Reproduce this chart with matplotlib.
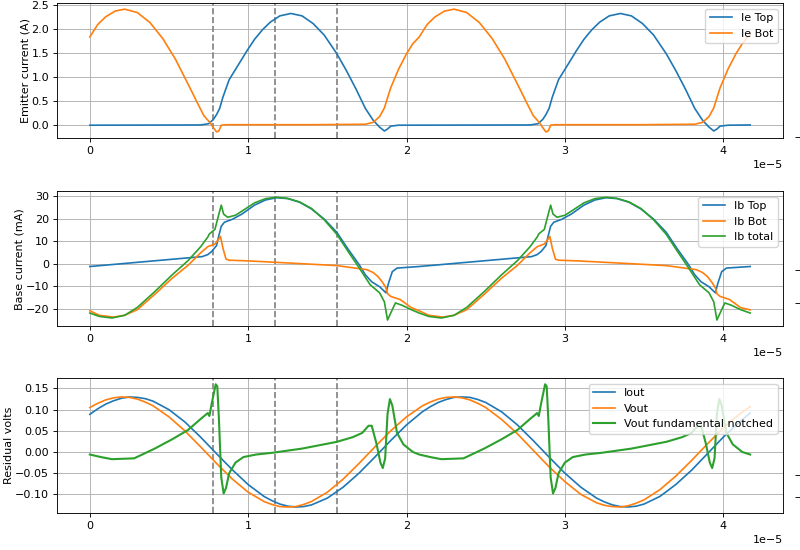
import matplotlib
matplotlib.use('Agg')
import matplotlib.pyplot as plt
from matplotlib.ticker import MultipleLocator
import numpy as np

# reference looks like a default figure scaled down by ~0.8
plt.rcParams.update({
    'font.size': 8,
    'lines.linewidth': 1.2,
    'axes.linewidth': 0.64,
    'axes.labelpad': 0.5,
    'grid.linewidth': 0.64,
    'xtick.major.size': 2.8,
    'ytick.major.size': 2.8,
    'xtick.major.width': 0.64,
    'ytick.major.width': 0.64,
    'xtick.major.pad': 2.8,
    'ytick.major.pad': 2.8,
    'legend.fontsize': 8,
})

# time is in units of 1e-5 s (the axis shows the 1e-5 offset)
markers = [0.78, 1.17, 1.56]

# --- emitter currents (A) ---
ie_top_t = [0.00, 0.70, 0.75, 0.78, 0.80, 0.82, 0.84, 0.88, 0.94, 0.99, 1.04, 1.09, 1.14, 1.20,
            1.27, 1.34, 1.41, 1.48, 1.56, 1.62, 1.68, 1.74, 1.79, 1.83, 1.86, 1.88, 1.90, 1.95,
            2.78, 2.83, 2.86, 2.88, 2.90, 2.92, 2.96, 3.02, 3.07, 3.12, 3.17, 3.22, 3.28,
            3.35, 3.42, 3.49, 3.56, 3.64, 3.70, 3.76, 3.82, 3.87, 3.91, 3.94, 3.96, 3.98, 4.03, 4.17]
ie_top = [0.00, 0.005, 0.03, 0.12, 0.22, 0.35, 0.58, 0.95, 1.27, 1.54, 1.79, 1.99, 2.15, 2.28,
          2.33, 2.28, 2.12, 1.88, 1.49, 1.14, 0.76, 0.35, 0.10, -0.04, -0.12, -0.08, -0.02, 0.00,
          0.005, 0.03, 0.12, 0.22, 0.35, 0.58, 0.95, 1.27, 1.54, 1.79, 1.99, 2.15, 2.28,
          2.33, 2.28, 2.12, 1.88, 1.49, 1.14, 0.76, 0.35, 0.10, -0.04, -0.12, -0.08, -0.02, 0.00, 0.005]

ie_bot_t = [0.00, 0.05, 0.10, 0.16, 0.22, 0.30, 0.38, 0.46, 0.54, 0.62, 0.68, 0.72, 0.76, 0.78,
            0.80, 0.815, 0.83, 0.86, 1.40, 1.74, 1.79, 1.83, 1.86, 1.90, 1.95, 2.00, 2.04,
            2.08, 2.13, 2.18, 2.24, 2.30, 2.38, 2.46, 2.54, 2.62, 2.70, 2.76, 2.80, 2.84, 2.86,
            2.88, 2.895, 2.91, 2.94, 3.48, 3.82, 3.87, 3.91, 3.94, 3.98, 4.03, 4.08, 4.12, 4.17]
ie_bot = [1.84, 2.10, 2.26, 2.38, 2.42, 2.35, 2.14, 1.81, 1.38, 0.86, 0.46, 0.20, 0.05, -0.05,
          -0.14, -0.12, 0.00, 0.01, 0.01, 0.02, 0.06, 0.18, 0.36, 0.78, 1.17, 1.49, 1.70,
          1.84, 2.10, 2.26, 2.38, 2.42, 2.35, 2.14, 1.81, 1.38, 0.86, 0.46, 0.20, 0.05, -0.05,
          -0.14, -0.12, 0.00, 0.01, 0.01, 0.02, 0.06, 0.18, 0.36, 0.78, 1.17, 1.49, 1.70, 1.90]

# --- base currents (mA) ---
ib_top_t = [0.00, 0.71, 0.745, 0.77, 0.80, 0.815, 0.83, 0.85, 0.90, 0.96, 1.04, 1.11, 1.18, 1.25,
            1.325, 1.40, 1.48, 1.56, 1.63, 1.70, 1.74, 1.78, 1.83, 1.87, 1.885, 1.91, 1.94,
            2.08, 2.79, 2.825, 2.85, 2.88, 2.895, 2.91, 2.93, 2.98, 3.04, 3.12, 3.19, 3.26, 3.33,
            3.405, 3.48, 3.56, 3.64, 3.71, 3.78, 3.82, 3.86, 3.91, 3.95, 3.965, 3.99, 4.02, 4.17]
ib_top = [-1.3, 3.1, 4.0, 5.4, 8.0, 12.5, 16.6, 18.4, 19.7, 22.0, 26.0, 28.3, 29.3, 28.9,
          27.3, 24.3, 19.8, 13.9, 6.5, -0.4, -5.0, -8.1, -10.3, -13.0, -9.0, -3.6, -2.0,
          -1.3, 3.1, 4.0, 5.4, 8.0, 12.5, 16.6, 18.4, 19.7, 22.0, 26.0, 28.3, 29.3, 28.9,
          27.3, 24.3, 19.8, 13.9, 6.5, -0.4, -5.0, -8.1, -10.3, -13.0, -9.0, -3.6, -2.0, -1.3]

ib_bot_t = [0.00, 0.06, 0.15, 0.22, 0.30, 0.41, 0.52, 0.62, 0.70, 0.745, 0.77, 0.79, 0.815, 0.825,
            0.84, 0.86, 0.88, 1.00, 1.325, 1.56, 1.75, 1.79, 1.82, 1.85, 1.87, 1.88, 1.90, 1.96, 2.03,
            2.08, 2.14, 2.23, 2.30, 2.38, 2.49, 2.60, 2.70, 2.78, 2.825, 2.85, 2.87, 2.895, 2.905,
            2.92, 2.94, 2.96, 3.08, 3.405, 3.64, 3.83, 3.87, 3.90, 3.93, 3.95, 3.96, 3.98, 4.04, 4.11, 4.17]
ib_bot = [-21.0, -23.0, -23.8, -23.0, -20.5, -13.7, -6.5, -0.8, 4.8, 7.5, 8.2, 8.7, 11.0, 12.1,
          7.0, 2.0, 1.5, 1.2, 0.0, -0.9, -2.7, -4.0, -5.8, -8.5, -10.8, -13.4, -14.6, -16.0, -19.6,
          -21.0, -23.0, -23.8, -23.0, -20.5, -13.7, -6.5, -0.8, 4.8, 7.5, 8.2, 8.7, 11.0, 12.1,
          7.0, 2.0, 1.5, 1.2, 0.0, -0.9, -2.7, -4.0, -5.8, -8.5, -10.8, -13.4, -14.6, -16.0, -19.6, -20.6]

ib_tot_t = [0.00, 0.06, 0.14, 0.22, 0.30, 0.41, 0.52, 0.62, 0.70, 0.745, 0.755, 0.79, 0.815, 0.83,
            0.845, 0.87, 0.92, 0.96, 1.04, 1.11, 1.18, 1.25, 1.325, 1.40, 1.48, 1.56, 1.63, 1.70,
            1.77, 1.83, 1.86, 1.88, 1.90, 1.93, 1.97, 2.03,
            2.08, 2.14, 2.22, 2.30, 2.38, 2.49, 2.60, 2.70, 2.78, 2.825, 2.835, 2.87, 2.895, 2.91,
            2.925, 2.95, 3.00, 3.04, 3.12, 3.19, 3.26, 3.33, 3.405, 3.48, 3.56, 3.64, 3.71, 3.78,
            3.85, 3.91, 3.94, 3.96, 3.98, 4.01, 4.05, 4.11, 4.17]
ib_tot = [-22.0, -23.5, -24.2, -23.0, -19.5, -12.5, -5.0, 1.3, 7.5, 11.8, 13.2, 15.2, 22.0, 26.0,
          22.0, 20.6, 21.5, 23.3, 27.0, 28.9, 29.5, 29.0, 27.4, 24.5, 19.5, 13.0, 5.5, -1.8,
          -9.4, -13.0, -17.0, -25.1, -22.0, -17.5, -18.5, -20.5,
          -22.0, -23.5, -24.2, -23.0, -19.5, -12.5, -5.0, 1.3, 7.5, 11.8, 13.2, 15.2, 22.0, 26.0,
          22.0, 20.6, 21.5, 23.3, 27.0, 28.9, 29.5, 29.0, 27.4, 24.5, 19.5, 13.0, 5.5, -1.8,
          -9.4, -13.0, -17.0, -25.1, -22.0, -17.5, -18.5, -20.5, -22.0]

# --- residual volts ---
res_t = [0.0, 0.05, 0.1, 0.15, 0.2, 0.25, 0.3, 0.35, 0.4, 0.5, 0.6, 0.7, 0.8, 0.9, 1.0, 1.1,
         1.15, 1.2, 1.25, 1.3, 1.35, 1.4, 1.5, 1.6, 1.7, 1.8, 1.9, 2.0, 2.1, 2.15, 2.2, 2.25, 2.3,
         2.35, 2.4, 2.45, 2.5, 2.6, 2.7, 2.8, 2.9, 3.0, 3.1, 3.2, 3.25, 3.3, 3.35, 3.4, 3.45, 3.5,
         3.6, 3.7, 3.8, 3.9, 4.0, 4.1, 4.17]
iout = [0.089, 0.102, 0.113, 0.121, 0.127, 0.130, 0.129, 0.126, 0.120, 0.100, 0.071, 0.035,
        -0.004, -0.042, -0.077, -0.105, -0.115, -0.123, -0.128, -0.130, -0.129, -0.125, -0.109,
        -0.083, -0.050, -0.012, 0.027, 0.064, 0.095, 0.107, 0.117, 0.124, 0.129, 0.130, 0.129,
        0.124, 0.117, 0.095, 0.064, 0.027, -0.012, -0.050, -0.083, -0.109, -0.118, -0.125,
        -0.129, -0.130, -0.128, -0.123, -0.105, -0.077, -0.043, -0.004, 0.035, 0.070, 0.092]
vout = [0.105, 0.115, 0.123, 0.128, 0.130, 0.129, 0.125, 0.118, 0.109, 0.083, 0.050, 0.012,
        -0.027, -0.064, -0.095, -0.117, -0.124, -0.129, -0.130, -0.129, -0.124, -0.117, -0.095,
        -0.064, -0.027, 0.012, 0.050, 0.083, 0.109, 0.118, 0.125, 0.129, 0.130, 0.128, 0.123,
        0.115, 0.105, 0.077, 0.043, 0.004, -0.035, -0.070, -0.100, -0.120, -0.126, -0.129,
        -0.130, -0.127, -0.121, -0.113, -0.089, -0.057, -0.020, 0.019, 0.057, 0.089, 0.107]

notch_t = [0.00, 0.07, 0.14, 0.28, 0.41, 0.52, 0.62, 0.70, 0.745, 0.755, 0.77, 0.795, 0.805, 0.815,
           0.83, 0.845, 0.86, 0.88, 0.92, 0.97, 1.05, 1.15, 1.34, 1.56, 1.66, 1.72, 1.76, 1.78,
           1.81, 1.835, 1.85, 1.865, 1.88, 1.895, 1.91, 1.94, 1.98, 2.04,
           2.08, 2.15, 2.22, 2.36, 2.49, 2.60, 2.70, 2.78, 2.825, 2.835, 2.85, 2.875, 2.885, 2.895,
           2.91, 2.925, 2.94, 2.96, 3.00, 3.05, 3.13, 3.23, 3.42, 3.64, 3.74, 3.80, 3.84, 3.86,
           3.89, 3.915, 3.93, 3.945, 3.96, 3.975, 3.99, 4.02, 4.06, 4.12, 4.17]
notch = [-0.006, -0.012, -0.017, -0.015, 0.008, 0.030, 0.052, 0.078, 0.092, 0.085, 0.115, 0.160,
         0.155, 0.080, -0.060, -0.098, -0.085, -0.050, -0.025, -0.012, -0.006, -0.002, 0.008, 0.024,
         0.035, 0.045, 0.062, 0.062, 0.020, -0.025, -0.038, -0.015, 0.090, 0.125, 0.110, 0.045,
         0.018, 0.000,
         -0.006, -0.012, -0.017, -0.015, 0.008, 0.030, 0.052, 0.078, 0.092, 0.085, 0.115, 0.160,
         0.155, 0.080, -0.060, -0.098, -0.085, -0.050, -0.025, -0.012, -0.006, -0.002, 0.008, 0.024,
         0.035, 0.045, 0.062, 0.062, 0.020, -0.025, -0.038, -0.015, 0.090, 0.125, 0.110, 0.045,
         0.018, 0.000, -0.006]

# stray ticks of a cut-off axis on the right edge (axes fraction)
stray_ticks = [[0.007], [0.17, 0.415], [0.119, 0.281]]


def sec(t):
    return np.array(t) * 1e-5


fig = plt.figure(figsize=(8, 5.5), dpi=100)
ax1 = fig.add_axes([0.071, 0.749, 0.908, 0.2455])
ax2 = fig.add_axes([0.071, 0.407, 0.908, 0.2455])
ax3 = fig.add_axes([0.071, 0.067, 0.908, 0.2455])

for ax in (ax1, ax2, ax3):
    for m in markers:
        ax.axvline(m * 1e-5, color='gray', linestyle='--')

ax1.plot(sec(ie_top_t), ie_top, label='Ie Top')
ax1.plot(sec(ie_bot_t), ie_bot, label='Ie Bot')
ax1.set_ylabel('Emitter current (A)')
ax1.yaxis.set_major_locator(MultipleLocator(0.5))

ax2.plot(sec(ib_top_t), ib_top, label='Ib Top')
ax2.plot(sec(ib_bot_t), ib_bot, label='Ib Bot')
ax2.plot(sec(ib_tot_t), ib_tot, label='Ib total')
ax2.set_ylabel('Base current (mA)')
ax2.yaxis.set_major_locator(MultipleLocator(10))

ax3.plot(sec(res_t), iout, label='Iout')
ax3.plot(sec(res_t), vout, label='Vout')
ax3.plot(sec(notch_t), notch, label='Vout fundamental notched', lw=1.5)
ax3.set_ylabel('Residual volts')
ax3.yaxis.set_major_locator(MultipleLocator(0.05))

for ax, ticks in zip((ax1, ax2, ax3), stray_ticks):
    ax.grid(True)
    ax.legend(loc='upper right')
    tw = ax.twinx()
    for s in tw.spines.values():
        s.set_visible(False)
    tw.spines['right'].set_position(('axes', 1.0165))
    tw.set_ylim(0, 1)
    tw.set_yticks(ticks)
    tw.set_yticklabels([])
    tw.tick_params(length=5)

plt.savefig('out.png')
